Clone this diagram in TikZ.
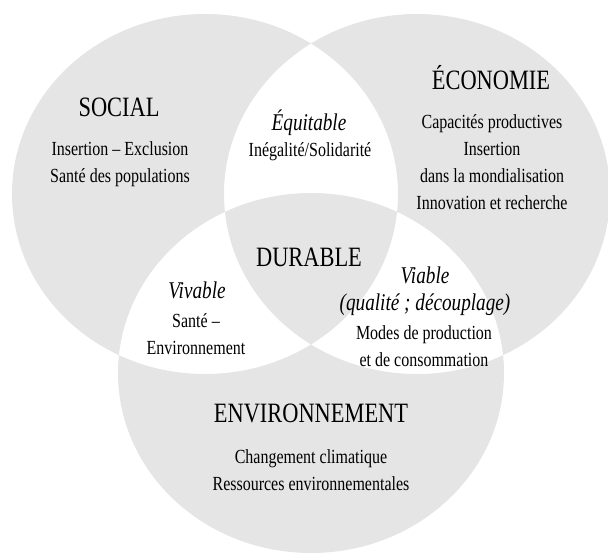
\documentclass[tikz,border=0pt]{standalone}
\usepackage{fontspec}
\setmainfont[FakeStretch=0.8]{Liberation Serif}

\begin{document}
\begin{tikzpicture}[x=0.5pt, y=0.5pt,
                    zone/.style={fill=black!10, even odd rule},
                    title/.style={font=\fontsize{14}{16}\selectfont},
                    qual/.style={font=\fontsize{12}{13.6}\selectfont\itshape, align=center},
                    txt/.style={font=\fontsize{10}{13.4}\selectfont, align=center}
]
\useasboundingbox (0,0) rectangle (608,552);
%
\coordinate (socc) at (205,358);
\coordinate (ecoc) at (417,358);
\coordinate (envc) at (311,179);
\fill[zone] (socc) ellipse [x radius=193, y radius=180]
            (ecoc) ellipse [x radius=193, y radius=180]
            (envc) ellipse [x radius=193, y radius=180];
%
\node [title] at (119,445) (social) {SOCIAL};
\node [txt] at (120,388) (socialtxt) {Insertion -- Exclusion\\Santé des populations};
\node [title] at (491,474) (eco) {ÉCONOMIE};
\node [txt] at (492,390) (ecotxt) {Capacités productives\\Insertion\\dans la mondialisation\\Innovation et recherche};
\node [title] at (311,139) (env) {ENVIRONNEMENT};
\node [txt] at (311,82) (envtxt) {Changement climatique\\Ressources environnementales};
%
\node [qual] at (309,429) (equi) {Équitable};
\node [txt] at (310,400) (equitxt) {Inégalité/Solidarité};
\node [qual] at (197,262) (viv) {Vivable};
\node [txt] at (196,218) (vivtxt) {Santé --\\Environnement};
\node [qual] at (425,261) (via) {Viable\\(qualité ; découplage)};
\node [txt] at (424,206) (viatxt) {Modes de production\\et de consommation};
\node [title] at (309,295) (dur) {DURABLE};
\end{tikzpicture}
\end{document}
